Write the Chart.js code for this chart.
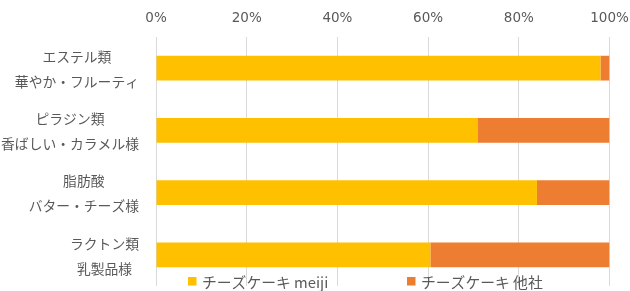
<!DOCTYPE html>
<html>
<head>
<meta charset="utf-8">
<script src="https://cdn.jsdelivr.net/npm/chart.js@4/dist/chart.umd.min.js"></script>
<style>
html,body{margin:0;padding:0;background:#fff;}
#wrap{width:630px;height:291px;position:relative;}
</style>
</head>
<body>
<div id="wrap"><canvas id="c" width="630" height="291"></canvas></div>
<script>
const categoryLine1 = ['エステル類', 'ピラジン類', '脂肪酸', 'ラクトン類'];
const categoryLine2 = ['華やか・フルーティ', '香ばしい・カラメル様', 'バター・チーズ様', '乳製品様'];
const seriesNames = ['チーズケーキ meiji', 'チーズケーキ 他社'];
const meijiValues = [98, 71, 84, 60.5];
const otherValues = [2, 29, 16, 39.5];
const tickValues = [0, 20, 40, 60, 80, 100];

const CJK = '"Noto Sans CJK JP", "Noto Sans", sans-serif';
const TEXT = '#595959';

const labelPlugin = {
  id: 'twoLineLabels',
  afterDraw(chart) {
    const ctx = chart.ctx;
    const y = chart.scales.y;
    ctx.save();
    ctx.fillStyle = TEXT;
    ctx.font = '13.8px ' + CJK;
    ctx.textBaseline = 'middle';
    ctx.textAlign = 'center';
    const rightEdge = 139;
    chart.data.labels.forEach((lab, i) => {
      const cy = y.getPixelForValue(i);
      const w = Math.max(...lab.map(s => ctx.measureText(s).width));
      const cx = rightEdge - w / 2;
      ctx.fillText(lab[0], cx, cy - 11.5);
      ctx.fillText(lab[1], cx, cy + 13.5);
    });
    // legend
    ctx.font = '14.8px ' + CJK;
    ctx.textAlign = 'left';
    const legendX = [188, 407];
    chart.data.datasets.forEach((ds, i) => {
      ctx.fillStyle = ds.backgroundColor;
      ctx.fillRect(legendX[i], 277, 8.5, 8.5);
      ctx.fillStyle = TEXT;
      ctx.fillText(ds.label, legendX[i] + 14, 282.5);
    });
    ctx.restore();
  }
};

new Chart(document.getElementById('c'), {
  type: 'bar',
  data: {
    labels: categoryLine1.map((l, i) => [l, categoryLine2[i]]),
    datasets: [
      { label: seriesNames[0], data: meijiValues, backgroundColor: '#FFC000', barPercentage: 0.4, categoryPercentage: 1 },
      { label: seriesNames[1], data: otherValues, backgroundColor: '#ED7D31', barPercentage: 0.4, categoryPercentage: 1 }
    ]
  },
  options: {
    indexAxis: 'y',
    responsive: false,
    animation: false,
    layout: { padding: { left: 156, right: 0, top: 0, bottom: 5 } },
    plugins: { legend: { display: false }, tooltip: { enabled: false } },
    scales: {
      x: {
        position: 'top',
        stacked: true,
        min: 0, max: 100,
        afterBuildTicks(scale) { scale.ticks = tickValues.map(v => ({ value: v })); },
        afterFit(scale) { scale.height = 37; scale.paddingRight = 20.5; scale.paddingLeft = 0; },
        grid: { color: '#d9d9d9', lineWidth: 1, drawTicks: false },
        border: { display: false },
        ticks: {
          padding: 10,
          color: TEXT,
          font: { family: '"DejaVu Sans", Verdana, sans-serif', size: 13.5 },
          callback: v => v + '%'
        }
      },
      y: {
        stacked: true,
        display: false
      }
    }
  },
  plugins: [labelPlugin]
});
</script>
</body>
</html>
